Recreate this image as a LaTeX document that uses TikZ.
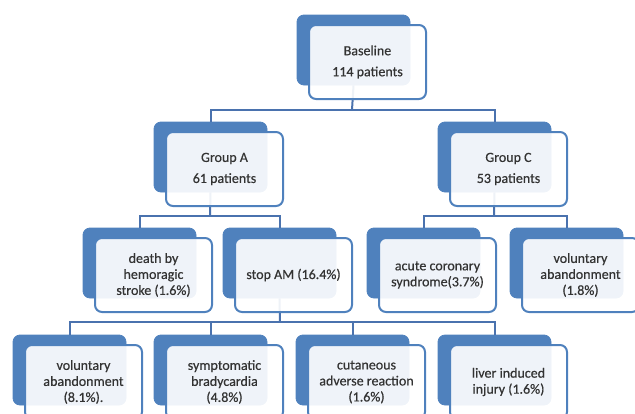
\documentclass[tikz,border=0pt]{standalone}
\usepackage{fontspec}
\newfontfamily\boxfont{Carlito}[FakeBold=0.5]
\definecolor{ob}{HTML}{4F81BD}
\definecolor{lk}{HTML}{4A72AE}
\definecolor{tx}{HTML}{333333}
\tikzset{
 backbox/.style={rectangle, rounded corners=7pt, fill=ob, draw=ob, line width=0.8pt, minimum width=113pt, minimum height=70pt, inner sep=0pt},
 frontbox/.style={rectangle, rounded corners=7pt, draw=ob, line width=2pt, fill=white, fill opacity=0.91, text opacity=1, draw opacity=1, minimum width=117pt, minimum height=74pt, inner sep=1pt, align=center, text=tx, font=\boxfont\fontsize{14}{16}\selectfont},
 link/.style={draw=lk, line width=2pt}
}
\newcommand\myback[3]{\node[backbox] (#1-b) at (#2+56.5,#3+35) {};}
\newcommand\myfront[4]{\node[frontbox] (#1) at (#2+70.5,#3+47) {#4};}
\begin{document}
\begin{tikzpicture}[x=1pt,y=-1pt]
\useasboundingbox (0,0) rectangle (635,413);
% back boxes
\myback{base}{297}{15}
\myback{ga}{154}{122}
\myback{gc}{438}{122}
\myback{death}{83}{228}
\myback{stop}{223}{228}
\myback{acute}{367}{228}
\myback{volc}{510}{228}
\myback{vola}{13}{335}
\myback{symp}{154}{335}
\myback{cut}{296}{335}
\myback{liver}{438}{335}
% junctions
\coordinate (j1) at (352,110);
\coordinate (j2) at (210,216);
\coordinate (j3) at (494,216);
\coordinate (j4) at (280,322);
% connectors
\draw[link] (base-b.south) -- (j1);
\draw[link] (ga-b.north) |- (j1) -| (gc-b.north);
\draw[link] (ga-b.south) -- (j2);
\draw[link] (death-b.north) |- (j2) -| (stop-b.north);
\draw[link] (gc-b.south) -- (j3);
\draw[link] (acute-b.north) |- (j3) -| (volc-b.north);
\draw[link] (stop-b.south) -- (j4);
\draw[link] (vola-b.north) |- (j4) -| (liver-b.north);
\draw[link] (symp-b.north) -- (symp-b.north |- j4);
\draw[link] (cut-b.north) -- (cut-b.north |- j4);
% front boxes
\myfront{base}{297}{15}{Baseline\\[5pt]114 patients}
\myfront{ga}{154}{122}{Group A\\[5pt]61 patients}
\myfront{gc}{438}{122}{Group C\\[5pt]53 patients}
\myfront{death}{83}{228}{death by\\hemoragic\\stroke (1.6\%)}
\myfront{stop}{223}{228}{stop AM (16.4\%)}
\myfront{acute}{367}{228}{acute coronary\\syndrome(3.7\%)}
\myfront{volc}{510}{228}{voluntary\\abandonment\\(1.8\%)}
\myfront{vola}{13}{335}{voluntary\\abandonment\\(8.1\%).}
\myfront{symp}{154}{335}{symptomatic\\bradycardia\\(4.8\%)}
\myfront{cut}{296}{335}{cutaneous\\adverse reaction\\(1.6\%)}
\myfront{liver}{438}{335}{liver induced\\injury (1.6\%)}
\end{tikzpicture}
\end{document}
